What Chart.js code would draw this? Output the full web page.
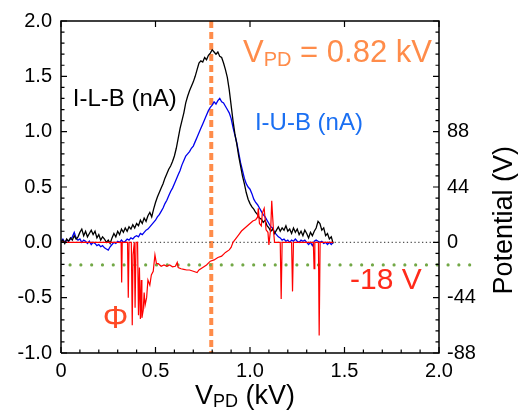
<!DOCTYPE html>
<html>
<head>
<meta charset="utf-8">
<script src="https://cdn.jsdelivr.net/npm/chart.js@4"></script>
<style>
  html, body { margin: 0; padding: 0; background: #fff; }
  #wrap { width: 523px; height: 414px; }
</style>
</head>
<body>
<div id="wrap"><canvas id="chart"></canvas></div>
<script>
// currents sampled every 0.01 kV from 0 kV
const kvStep = 0.01;
const iLB = [0.00,0.02,-0.01,0.03,0.01,0.04,0.02,0.06,0.03,0.05,
  0.09,0.12,0.06,0.10,0.05,0.08,0.11,0.07,0.10,0.04,
  0.07,0.02,0.05,0.03,0.00,0.02,-0.01,0.04,0.08,0.05,
  0.10,0.07,0.12,0.09,0.13,0.10,0.14,0.12,0.16,0.13,
  0.17,0.15,0.20,0.17,0.22,0.19,0.24,0.27,0.23,0.30,
  0.36,0.41,0.45,0.49,0.53,0.58,0.62,0.66,0.69,0.73,
  0.78,0.85,0.94,1.03,1.10,1.17,1.26,1.32,1.37,1.41,
  1.45,1.50,1.56,1.62,1.64,1.63,1.67,1.65,1.69,1.71,
  1.74,1.72,1.70,1.72,1.68,1.67,1.62,1.56,1.49,1.38,
  1.24,1.10,0.98,0.89,0.78,0.69,0.60,0.53,0.45,0.39,
  0.35,0.32,0.30,0.27,0.25,0.22,0.21,0.18,0.20,0.15,
  0.13,0.10,0.12,0.08,0.11,0.14,0.10,0.13,0.11,0.15,
  0.10,0.12,0.08,0.13,0.09,0.12,0.07,0.10,0.06,0.11,
  0.08,0.04,0.09,0.06,0.10,0.13,0.19,0.17,0.11,0.13,
  0.06,0.08,0.03,0.05,-0.01];
const iUB = [0.01,0.03,0.00,0.02,0.01,0.03,0.05,0.09,0.04,0.02,
  0.03,0.00,0.02,0.01,-0.01,0.01,-0.02,0.00,-0.01,-0.03,
  -0.02,-0.04,-0.03,-0.05,-0.06,-0.07,-0.04,-0.02,0.00,-0.01,
  0.01,0.00,0.02,0.00,0.01,0.03,0.02,0.04,0.03,0.05,
  0.06,0.05,0.08,0.07,0.09,0.11,0.12,0.14,0.16,0.18,
  0.20,0.23,0.25,0.28,0.31,0.35,0.38,0.42,0.46,0.49,
  0.53,0.57,0.61,0.65,0.70,0.74,0.78,0.80,0.82,0.85,
  0.87,0.91,0.95,0.99,1.03,1.07,1.11,1.15,1.19,1.22,
  1.24,1.27,1.25,1.28,1.30,1.27,1.26,1.23,1.20,1.17,
  1.12,1.04,0.97,0.90,0.81,0.72,0.65,0.58,0.53,0.50,
  0.48,0.44,0.39,0.36,0.34,0.31,0.28,0.25,0.23,0.20,
  0.17,0.14,0.13,0.09,0.07,0.05,0.04,0.02,0.03,0.01,
  0.02,0.00,0.02,0.01,0.03,0.01,0.00,0.02,0.01,0.02,
  0.00,-0.02,0.00,-0.03,0.01,0.02,0.01,0.00,0.01,-0.01,
  0.00,-0.02,0.00,-0.02,0.00];

// potential phi (V) on the right axis
const phiX = [0,0.318,0.321,0.324,0.352,0.356,0.36,
  0.372,0.377,0.381,0.388,0.392,0.397,
  0.405,0.41,0.415,0.42,0.425,0.428,
  0.435,0.44,0.445,0.453,0.46,0.47,0.478,0.488,0.497,0.505,
  0.515,0.53,0.545,0.56,0.575,0.59,0.605,0.615,0.62,0.635,0.65,0.665,0.68,0.70,0.72,0.73,
  0.75,0.77,0.79,0.81,0.83,0.85,0.87,0.89,0.90,0.91,0.925,0.94,0.955,0.97,0.985,
  1.0,1.015,1.03,1.04,1.044,1.05,1.06,1.065,1.075,1.085,1.095,1.1,1.105,1.11,1.115,1.12,1.125,1.13,
  1.16,1.165,1.17,1.22,1.225,1.23,1.335,1.339,1.343,1.362,1.366,1.371,1.44];
const phiV = [0,0,-32,0,0,-44,0,
  0,-66,-10,0,-52,0,
  0,-58,-20,-61,-30,-60,
  -54,-40,-50,-44,-30,-34,-26,-23,-10,-17,
  -17,-19,-18,-19,-18,-19.5,-19,-16,-20,-21,-21.5,-22,-22,-23,-24,-22,
  -20,-18,-15,-14,-12,-11,-8,-6,-4,0,3,6,9,11,13,
  15,17,18,20,27,15,13,23,27,10,8,-2,5,12,33,20,8,0,
  0,-45,0,0,-39,0,0,-21,0,0,-74,0,0];

const vpdMarker = 0.795;    // kV, dashed line
const phiLevel = -18;       // V, dotted line

const xMajor = [0, 0.5, 1, 1.5, 2];
const xTickLabels = ['0', '0.5', '1.0', '1.5', '2.0'];
const yMajor = [-1, -0.5, 0, 0.5, 1, 1.5, 2];
const yTickLabels = ['-1.0', '-0.5', '0.0', '0.5', '1.0', '1.5', '2.0'];
const y2Major = [-88, -44, 0, 44, 88];
const y2TickLabels = ['-88', '-44', '0', '44', '88'];

const X_MIN = 0, X_MAX = 2, Y_MIN = -1, Y_MAX = 2;
const FONT = '"Liberation Sans", Arial, Helvetica, sans-serif';

function labelFor(value, majors, labels) {
  const i = majors.findIndex(m => Math.abs(m - value) < 1e-6);
  return i >= 0 ? labels[i] : '';
}

const lbPoints = iLB.map((v, i) => ({ x: i * kvStep, y: v }));
const ubPoints = iUB.map((v, i) => ({ x: i * kvStep, y: v }));
const phiPoints = phiX.map((x, i) => ({ x: x, y: phiV[i] }));

// plot frame and inward ticks, in axis units (plot box is 378 x 338 px)
const perPxX = (X_MAX - X_MIN) / 378;
const perPxY = (Y_MAX - Y_MIN) / 338;
const framePoints = [
  { x: X_MIN, y: Y_MIN }, { x: X_MAX, y: Y_MIN }, { x: X_MAX, y: Y_MAX },
  { x: X_MIN, y: Y_MAX }, { x: X_MIN, y: Y_MIN }
];
const tickPoints = [];
for (let i = 0; i <= 20; i++) {
  const v = X_MIN + i * 0.1;
  const major = i % 5 === 0;
  const len = (major ? 6 : 3.5) * perPxY;
  tickPoints.push({ x: v, y: Y_MIN }, { x: v, y: Y_MIN + len }, { x: v, y: null });
  if (major) tickPoints.push({ x: v, y: Y_MAX }, { x: v, y: Y_MAX - len }, { x: v, y: null });
}
for (let i = 0; i <= 30; i++) {
  const v = Y_MIN + i * 0.1;
  const len = (i % 5 === 0 ? 6 : 3.5) * perPxX;
  tickPoints.push({ x: X_MIN, y: v }, { x: X_MIN + len, y: v }, { x: X_MIN + len, y: null });
  tickPoints.push({ x: X_MAX, y: v }, { x: X_MAX - len, y: v }, { x: X_MAX - len, y: null });
}

function drawParts(ctx, parts, x, y) {
  parts.forEach(p => {
    ctx.font = p.size + 'px ' + FONT;
    ctx.fillText(p.t, x, y + (p.dy || 0));
    x += ctx.measureText(p.t).width;
  });
}
function partsWidth(ctx, parts) {
  let w = 0;
  parts.forEach(p => { ctx.font = p.size + 'px ' + FONT; w += ctx.measureText(p.t).width; });
  return w;
}

const textPlugin = {
  id: 'notes',
  afterDraw(chart) {
    const ctx = chart.ctx;
    const a = chart.chartArea;
    const x = chart.scales.x, y = chart.scales.y;
    ctx.save();
    ctx.textBaseline = 'alphabetic';
    ctx.textAlign = 'left';
    ctx.fillStyle = '#ff8c4a';
    drawParts(ctx, [{ t: 'V', size: 31 }, { t: 'PD', size: 20, dy: 4 }, { t: ' = 0.82 kV', size: 31 }],
      x.getPixelForValue(0.963), y.getPixelForValue(1.627));
    ctx.fillStyle = '#000';
    drawParts(ctx, [{ t: 'I-L-B (nA)', size: 24 }], x.getPixelForValue(0.062), y.getPixelForValue(1.231));
    ctx.fillStyle = '#1a6ff2';
    drawParts(ctx, [{ t: 'I-U-B (nA)', size: 24 }], x.getPixelForValue(1.026), y.getPixelForValue(1.015));
    ctx.fillStyle = '#ff2a1a';
    drawParts(ctx, [{ t: '-18 V', size: 30 }], x.getPixelForValue(1.529), y.getPixelForValue(-0.422));
    ctx.fillStyle = '#ff4a25';
    ctx.textAlign = 'center';
    ctx.font = '32px ' + FONT;
    ctx.fillText('Φ', x.getPixelForValue(0.288), y.getPixelForValue(-0.777));

    // axis titles
    ctx.textAlign = 'left';
    ctx.fillStyle = '#000';
    const xt = [{ t: 'V', size: 27 }, { t: 'PD', size: 18, dy: 3 }, { t: ' (kV)', size: 27 }];
    const w = partsWidth(ctx, xt);
    drawParts(ctx, xt, (a.left + a.right) / 2 - 5 - w / 2, 404);

    ctx.translate(512, y.getPixelForValue(0.2));
    ctx.rotate(-Math.PI / 2);
    ctx.textAlign = 'center';
    ctx.font = '27px ' + FONT;
    ctx.fillText('Potential (V)', 0, 0);
    ctx.restore();
  }
};

new Chart(document.getElementById('chart'), {
  type: 'line',
  data: {
    datasets: [{
      label: 'frame',
      data: framePoints,
      yAxisID: 'y',
      borderColor: '#000',
      borderWidth: 1.5,
      borderJoinStyle: 'miter',
      pointRadius: 0,
      clip: false,
      order: 0
    }, {
      label: 'ticks',
      data: tickPoints,
      yAxisID: 'y',
      borderColor: '#000',
      borderWidth: 1.2,
      spanGaps: false,
      pointRadius: 0,
      clip: false,
      order: 0
    }, {
      label: 'Φ',
      data: phiPoints,
      yAxisID: 'y2',
      borderColor: '#ff0000',
      borderWidth: 1.2,
      pointRadius: 0,
      order: 1
    }, {
      label: 'I-L-B (nA)',
      data: lbPoints,
      yAxisID: 'y',
      borderColor: '#000000',
      borderWidth: 1.3,
      pointRadius: 0,
      order: 2
    }, {
      label: 'I-U-B (nA)',
      data: ubPoints,
      yAxisID: 'y',
      borderColor: '#0000ee',
      borderWidth: 1.3,
      pointRadius: 0,
      order: 3
    }, {
      label: 'zero',
      data: [{ x: 0, y: 0 }, { x: 2, y: 0 }],
      yAxisID: 'y',
      borderColor: '#555',
      borderWidth: 1.2,
      borderDash: [1.3, 2.5],
      pointRadius: 0,
      order: 4
    }, {
      label: '-18 V',
      data: [{ x: 0.048, y: phiLevel }, { x: 2.17, y: phiLevel }],
      yAxisID: 'y2',
      borderColor: '#72a846',
      borderWidth: 3.2,
      borderCapStyle: 'round',
      borderDash: [0, 10.8],
      pointRadius: 0,
      clip: false,
      order: 5
    }, {
      label: 'VPD',
      data: [{ x: vpdMarker, y: 2 }, { x: vpdMarker, y: -1 }],
      yAxisID: 'y',
      borderColor: '#ff8c4a',
      borderWidth: 4,
      borderDash: [7, 4],
      pointRadius: 0,
      order: 6
    }]
  },
  options: {
    responsive: true,
    maintainAspectRatio: false,
    animation: false,
    layout: { padding: { top: 15, left: 0, right: 0, bottom: 0 } },
    plugins: { legend: { display: false }, tooltip: { enabled: false } },
    scales: {
      x: {
        type: 'linear',
        min: X_MIN, max: X_MAX,
        afterFit: s => { s.height = 61; },
        grid: { display: false, drawTicks: false },
        border: { display: false },
        ticks: {
          stepSize: 0.1,
          autoSkip: false,
          maxRotation: 0,
          padding: 6,
          color: '#000',
          font: { family: FONT, size: 20 },
          callback: v => labelFor(v, xMajor, xTickLabels)
        }
      },
      y: {
        position: 'left',
        min: Y_MIN, max: Y_MAX,
        afterFit: s => { s.width = 61; },
        grid: { display: false, drawTicks: false },
        border: { display: false },
        ticks: {
          stepSize: 0.1,
          autoSkip: false,
          padding: 9,
          color: '#000',
          font: { family: FONT, size: 20 },
          callback: v => labelFor(v, yMajor, yTickLabels)
        }
      },
      y2: {
        position: 'right',
        min: -88, max: 176,
        afterFit: s => { s.width = 84; },
        grid: { display: false, drawTicks: false },
        border: { display: false },
        ticks: {
          stepSize: 8.8,
          autoSkip: false,
          padding: 8,
          color: '#000',
          font: { family: FONT, size: 20 },
          callback: v => labelFor(v, y2Major, y2TickLabels)
        }
      }
    }
  },
  plugins: [textPlugin]
});
</script>
</body>
</html>
